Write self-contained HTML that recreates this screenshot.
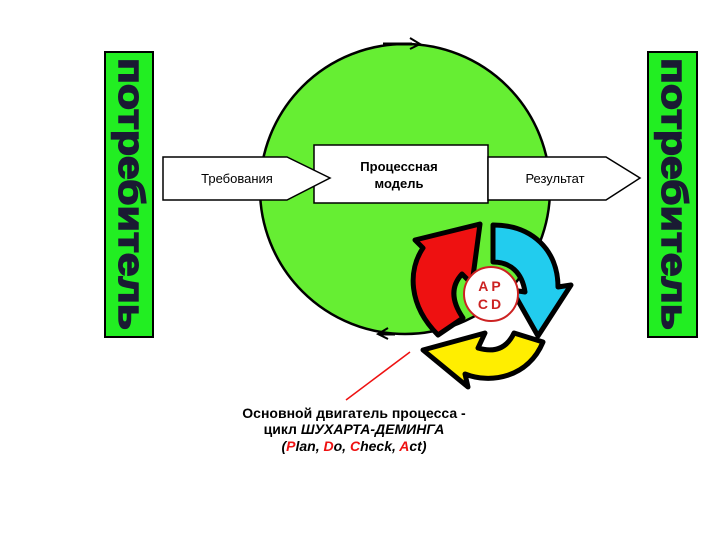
<!DOCTYPE html>
<html><head><meta charset="utf-8"><style>
body{margin:0;background:#fff;width:720px;height:540px;overflow:hidden}
svg{display:block}
text{font-family:"Liberation Sans",sans-serif}
</style></head><body>
<svg width="720" height="540" viewBox="0 0 720 540" xmlns="http://www.w3.org/2000/svg">
<rect x="105" y="52" width="48" height="285" fill="#22ee22" stroke="#000" stroke-width="2"/>
<rect x="648" y="52" width="49" height="285" fill="#22ee22" stroke="#000" stroke-width="2"/>
<text transform="translate(119,58) rotate(90)" font-size="36" font-weight="bold" fill="#1a1a33" stroke="#1a1a33" stroke-width="1.5" textLength="272" lengthAdjust="spacingAndGlyphs">потребитель</text>
<text transform="translate(662,58) rotate(90)" font-size="36" font-weight="bold" fill="#1a1a33" stroke="#1a1a33" stroke-width="1.5" textLength="272" lengthAdjust="spacingAndGlyphs">потребитель</text>
<circle cx="405" cy="189" r="145" fill="#66ee33" stroke="#000" stroke-width="2.5"/>
<path d="M383 44 L412 44" stroke="#000" stroke-width="3"/>
<path d="M410 38 L420 44 L410 49" fill="none" stroke="#000" stroke-width="2"/>
<path d="M395 334 L380 334" stroke="#000" stroke-width="3"/>
<path d="M388 328 L378 334 L388 339" fill="none" stroke="#000" stroke-width="2"/>
<rect x="314" y="145" width="174" height="58" fill="#fff" stroke="#000" stroke-width="1.5"/>
<polygon points="163,157 287,157 330,178 287,200 163,200" fill="#fff" stroke="#000" stroke-width="1.5"/>
<polygon points="488,157 606,157 640,178 606,200 488,200" fill="#fff" stroke="#000" stroke-width="1.5"/>
<text x="237" y="183" font-size="13" text-anchor="middle">Требования</text>
<text x="555" y="183" font-size="13" text-anchor="middle">Результат</text>
<text x="399" y="171" font-size="13" font-weight="bold" text-anchor="middle">Процессная</text>
<text x="399" y="188" font-size="13" font-weight="bold" text-anchor="middle">модель</text>
<g stroke="#000" stroke-width="5" stroke-linejoin="round">
<path d="M438 335 C408 305 408 270 423 248 L415 240 L480 224 L472 284 L462 274 C450 287 452 302 463 318 Z" fill="#ee1111"/>
<path d="M493 225 C532 225 558 250 558 287 L571 285 L538 336 L512 290 L525 292 C522 272 510 262 493 262 Z" fill="#22ccee"/>
<path d="M543 342 C528 378 490 384 465 374 L468 387 L423 350 L485 333 L478 348 C495 353 507 348 514 333 Z" fill="#ffee00"/>
</g>
<circle cx="491" cy="294" r="27" fill="#fff" stroke="#cc2222" stroke-width="2"/>
<text x="491" y="291" font-size="14" fill="#cc2222" text-anchor="middle" font-weight="bold" letter-spacing="3">AP</text>
<text x="491" y="309" font-size="14" fill="#cc2222" text-anchor="middle" font-weight="bold" letter-spacing="3">CD</text>
<line x1="346" y1="400" x2="410" y2="352" stroke="#ee1111" stroke-width="1.5"/>
<text x="354" y="418" font-size="14" font-weight="bold" text-anchor="middle">Основной двигатель процесса -</text>
<text x="354" y="434" font-size="14" font-weight="bold" text-anchor="middle">цикл <tspan font-style="italic">ШУХАРТА-ДЕМИНГА</tspan></text>
<text x="354" y="451" font-size="14" font-weight="bold" font-style="italic" text-anchor="middle">(<tspan fill="#ee1111">P</tspan>lan, <tspan fill="#ee1111">D</tspan>o, <tspan fill="#ee1111">C</tspan>heck, <tspan fill="#ee1111">A</tspan>ct)</text>
</svg>
</body></html>
